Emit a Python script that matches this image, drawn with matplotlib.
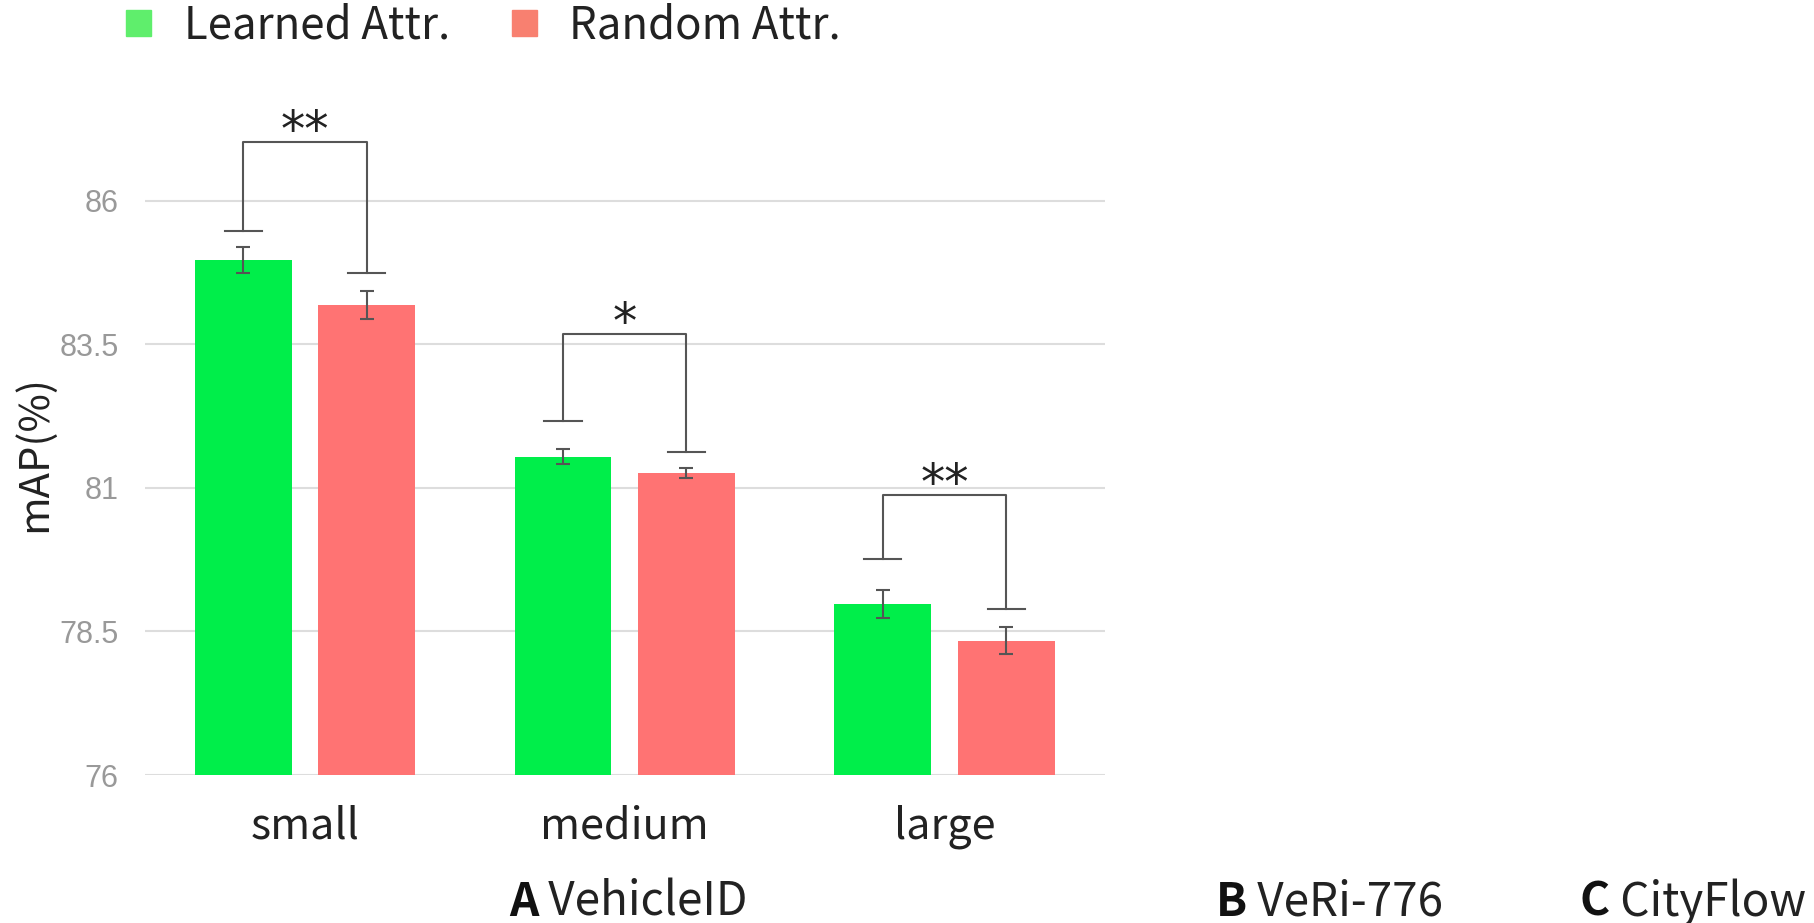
import matplotlib
matplotlib.use("Agg")
import matplotlib.pyplot as plt
from matplotlib.patches import Patch
import numpy as np

categories = ["small", "medium", "large"]
learned = [84.97, 81.54, 78.98]
learned_err = [0.23, 0.13, 0.25]
random_attr = [84.19, 81.26, 78.34]
random_err = [0.24, 0.09, 0.23]
brackets_left = [85.48, 82.17, 79.77]
brackets_right = [84.75, 81.63, 78.90]
brackets_top = [87.03, 83.68, 80.88]
stars = ["**", "*", "**"]
yticks = [76, 78.5, 81, 83.5, 86]
ytick_labels = ["76", "78.5", "81", "83.5", "86"]
series_names = ["Learned Attr.", "Random Attr."]
panels = [("A", " VehicleID"), ("B", " VeRi-776"), ("C", " CityFlow")]

FONT = ["Noto Sans CJK SC", "DejaVu Sans"]
plt.rcParams['font.family'] = FONT

green = "#00EE4A"
red = "#FF7373"
leg_green = "#5FEE6C"
leg_red = "#F88070"
dark = "#555555"

fig = plt.figure(figsize=(18.14, 9.23), dpi=100)
ax = fig.add_axes([0.0799, 0.1603, 0.529, 0.7465])

x = np.arange(len(categories))
off = 0.193
w = 0.303
ax.bar(x - off, learned, width=w, color=green, zorder=2)
ax.bar(x + off, random_attr, width=w, color=red, zorder=2)
ax.errorbar(x - off, learned, yerr=learned_err, fmt='none', ecolor=dark,
            elinewidth=1.5, capsize=5, capthick=1.5, zorder=3)
ax.errorbar(x + off, random_attr, yerr=random_err, fmt='none', ecolor=dark,
            elinewidth=1.5, capsize=5, capthick=1.5, zorder=3)

hw = 0.058
for i in range(len(categories)):
    xl, xr = x[i] - off, x[i] + off
    ax.plot([xl - hw, xl + hw], [brackets_left[i]] * 2, color=dark, lw=1.5, zorder=3)
    ax.plot([xr - hw, xr + hw], [brackets_right[i]] * 2, color=dark, lw=1.5, zorder=3)
    ax.plot([xl, xl, xr, xr], [brackets_left[i], brackets_top[i], brackets_top[i], brackets_right[i]],
            color=dark, lw=1.5, zorder=3)
    ax.text(x[i], brackets_top[i] - 0.25, stars[i], ha='center', va='bottom',
            fontsize=35, color='#222222', family=['DejaVu Sans'])

ax.set_xlim(-0.5, 2.5)
ax.set_ylim(76, 88)
ax.set_yticks(yticks)
ax.set_yticklabels(ytick_labels, fontsize=22, color='#999999', family=['Liberation Sans'])
ax.set_xticks(x)
ax.set_xticklabels(categories, fontsize=31, color='#222222')
ax.tick_params(axis='both', length=0)
ax.tick_params(axis='y', pad=19)
ax.tick_params(axis='x', pad=21)
ax.grid(axis='y', color='#DDDDDD', lw=1.5, zorder=0)
ax.set_axisbelow(True)
for s in ax.spines.values():
    s.set_visible(False)
ax.set_ylabel("mAP(%)", fontsize=30, color='#222222')
ax.yaxis.set_label_coords(-0.116, 0.467)
ax.yaxis.label.set_va('center')

handles = [Patch(color=leg_green), Patch(color=leg_red)]
fig.legend(handles, series_names, loc='upper left', bbox_to_anchor=(0.048, 1.04),
           ncol=2, frameon=False, fontsize=31.5, handlelength=0.57, handleheight=0.57,
           handletextpad=0.75, columnspacing=1.4, labelcolor='#222222')

renderer = fig.canvas.get_renderer()
positions = [0.2806, 0.670, 0.871]
for (b, rest), px in zip(panels, positions):
    t1 = fig.text(px, 0.008, b, fontsize=33, fontweight='bold', color='#111111', va='baseline')
    bb = t1.get_window_extent(renderer)
    x2 = fig.transFigure.inverted().transform((bb.x1, bb.y0))[0]
    fig.text(x2, 0.008, rest, fontsize=33, color='#222222', va='baseline')

fig.savefig("out.png", dpi=100)
